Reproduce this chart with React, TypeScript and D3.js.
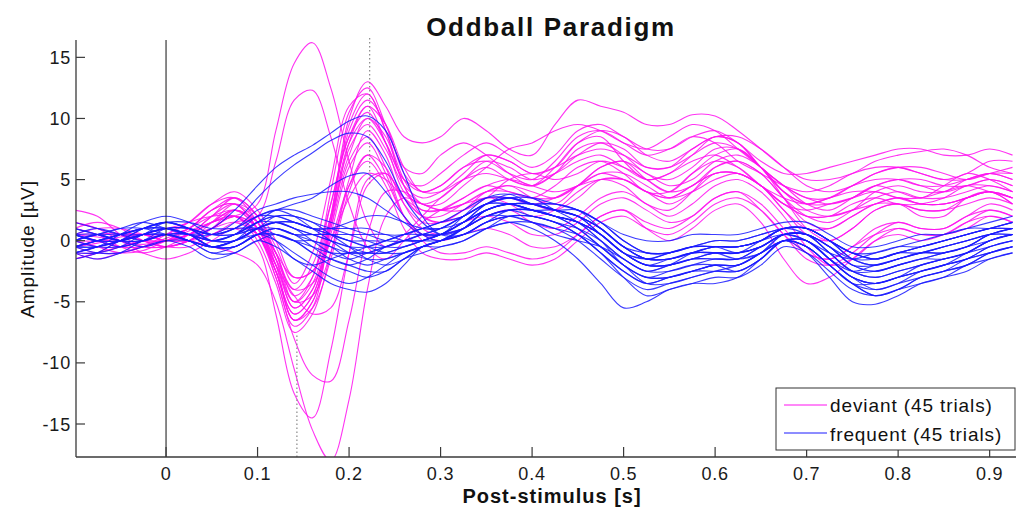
import * as d3 from "d3";

// sample times (s): 25 ms steps, 20 ms steps around the N1/P3 complex
const times = [
  -0.1, -0.075, -0.05, -0.025, 0, 0.025, 0.05, 0.075, 0.1,
  0.12, 0.14, 0.16, 0.18, 0.2, 0.22, 0.24, 0.26, 0.28, 0.3,
  0.325, 0.35, 0.375, 0.4, 0.425, 0.45, 0.475, 0.5, 0.525, 0.55, 0.575, 0.6,
  0.625, 0.65, 0.675, 0.7, 0.725, 0.75, 0.775, 0.8, 0.825, 0.85, 0.875, 0.9, 0.925,
];

// deviant trials, amplitude in µV at each sample time
const deviantTrials = [
  [0.5, 0.3, 0.0, -0.3, 0.2, 1.0, 2.5, 3.0, 1.0, -1.5, -4.0, -2.0, 3.0, 8.5, 11.0, 8.0, 4.0, 3.0, 3.5, 5.0, 6.0, 5.0, 4.5, 6.0, 8.0, 8.5, 6.5, 5.0, 5.5, 7.0, 8.5, 8.0, 6.0, 4.5, 3.0, 2.5, 3.5, 4.5, 4.0, 3.5, 4.5, 5.5, 5.0, 4.0],
  [-0.5, -0.2, 0.3, 0.5, 0.0, 0.5, 1.5, 2.0, 0.5, -2.5, -6.0, -4.5, 2.0, 10.0, 13.0, 11.0, 8.5, 8.0, 8.5, 10.0, 9.0, 7.5, 7.0, 9.5, 11.5, 11.0, 10.5, 9.5, 9.5, 10.3, 10.2, 9.0, 7.5, 6.0, 5.0, 5.0, 5.5, 6.5, 7.0, 7.3, 7.5, 7.0, 6.0, 5.5],
  [1.0, 0.5, -0.5, -1.0, -0.5, 0.5, 2.0, 3.5, 2.0, -0.5, -3.5, -1.0, 5.0, 11.0, 12.0, 9.0, 5.0, 3.0, 3.0, 4.5, 6.0, 7.5, 8.0, 9.0, 9.5, 9.0, 8.0, 7.5, 8.5, 9.5, 9.0, 7.5, 6.0, 4.5, 3.5, 3.0, 3.5, 4.5, 5.0, 4.5, 4.0, 4.5, 5.0, 4.5],
  [-1.0, -0.5, 0.0, 0.5, 1.0, 1.5, 3.0, 4.0, 2.5, 0.0, -3.0, -2.5, 2.0, 7.0, 10.0, 8.5, 4.5, 2.0, 1.5, 2.5, 4.0, 4.5, 3.5, 3.0, 4.5, 6.0, 6.5, 5.0, 4.0, 5.5, 7.0, 7.5, 6.0, 3.5, 1.0, 0.0, 1.0, 2.5, 3.0, 2.0, 2.0, 3.5, 4.0, 3.0],
  [0.0, -0.5, -1.0, -0.8, 0.0, 0.8, 1.5, 2.0, 0.0, -3.5, -7.5, -6.0, -1.0, 5.0, 9.0, 7.0, 3.0, 1.0, 0.5, 1.0, 2.0, 2.5, 1.5, 1.0, 2.0, 3.5, 4.0, 3.0, 2.0, 3.0, 4.5, 5.0, 4.0, 2.0, -0.5, -2.0, -1.5, 0.0, 1.0, 0.5, 0.5, 1.5, 2.5, 2.0],
  [2.5, 2.0, 0.5, -0.5, -0.5, 0.0, 1.0, 2.5, 1.5, -1.0, -5.0, -3.5, 2.0, 9.0, 11.5, 9.5, 5.5, 4.0, 4.0, 5.0, 5.5, 5.0, 4.5, 5.5, 7.0, 8.0, 7.5, 6.0, 6.0, 7.5, 8.5, 8.5, 7.5, 6.0, 4.5, 4.0, 4.5, 5.5, 6.0, 6.0, 5.5, 5.0, 5.5, 6.0],
  [0.5, 1.0, 1.0, 0.5, 0.0, 0.5, 1.5, 2.0, 3.0, 9.0, 14.5, 16.2, 12.5, 6.5, 1.5, -0.5, 0.5, 2.0, 3.5, 5.0, 6.5, 6.0, 5.0, 5.5, 6.5, 7.0, 6.0, 5.0, 5.5, 6.5, 7.0, 6.0, 4.5, 3.5, 3.0, 3.5, 4.0, 4.0, 3.5, 3.5, 4.0, 4.5, 4.0, 3.5],
  [-1.5, -1.0, -0.5, 0.0, 0.5, 0.0, 0.5, 1.5, 2.0, 6.5, 11.5, 12.3, 8.5, 3.0, -0.5, -1.5, 0.0, 1.5, 2.5, 3.5, 4.5, 5.0, 4.5, 4.0, 4.5, 5.5, 5.5, 4.5, 3.5, 4.0, 5.0, 5.5, 4.5, 3.0, 2.0, 2.0, 3.0, 3.5, 3.0, 3.0, 3.5, 4.5, 4.5, 4.0],
  [0.0, 0.5, 0.5, 0.0, -0.5, -0.5, 0.5, 1.0, -0.5, -6.0, -12.5, -14.5, -9.0, -1.0, 5.0, 5.5, 3.5, 2.0, 1.5, 2.0, 3.0, 3.5, 3.0, 2.5, 3.5, 5.0, 5.0, 4.0, 3.0, 4.0, 5.5, 5.5, 4.5, 2.5, 0.5, 0.0, 1.0, 2.5, 3.0, 2.5, 2.5, 3.0, 3.5, 3.0],
  [-1.0, -1.5, -1.0, -0.5, 0.0, 0.0, -0.5, -1.0, -2.0, -5.0, -10.5, -15.5, -18.0, -13.0, -4.0, 2.0, 3.5, 3.0, 2.5, 3.0, 4.0, 4.5, 4.0, 3.5, 4.5, 6.0, 6.5, 5.5, 4.5, 5.0, 6.5, 7.0, 6.0, 4.0, 2.5, 2.0, 2.5, 3.5, 4.0, 3.5, 3.5, 4.0, 4.5, 4.0],
  [1.5, 1.0, 0.0, -1.0, -1.5, -1.0, 0.0, 1.0, 0.5, -3.0, -8.0, -11.0, -11.5, -6.5, 0.5, 4.0, 4.0, 3.0, 2.5, 2.5, 3.5, 5.0, 5.5, 5.0, 5.5, 6.5, 6.0, 5.0, 4.0, 4.5, 6.0, 6.5, 5.5, 3.5, 2.0, 1.5, 2.5, 4.0, 4.5, 4.0, 4.0, 5.0, 5.5, 5.0],
  [-0.5, 0.0, 0.5, 0.5, 0.5, 1.0, 2.5, 3.5, 2.0, -1.5, -5.5, -4.0, 1.0, 6.5, 8.5, 6.0, 2.0, 0.0, -1.0, -1.0, -0.5, -1.0, -1.5, -1.0, 0.5, 2.0, 2.5, 1.0, 0.0, 1.0, 2.5, 3.0, 1.5, -1.5, -3.5, -3.0, -1.5, 0.0, 0.5, 0.0, 0.5, 1.5, 2.0, 1.5],
  [0.0, -0.5, -0.5, 0.0, 0.5, 1.5, 3.0, 3.5, 1.5, -2.0, -6.5, -5.5, -1.5, 4.0, 7.0, 6.0, 3.0, 1.5, 1.5, 2.5, 3.5, 3.0, 2.0, 2.5, 4.0, 5.0, 4.5, 3.0, 2.5, 4.0, 6.0, 6.5, 5.5, 3.5, 1.5, 1.0, 2.0, 3.0, 3.0, 2.5, 2.5, 3.5, 4.0, 3.0],
  [1.5, 1.0, 0.5, 0.0, 0.0, 0.5, 1.5, 2.5, 1.0, -1.0, -4.5, -3.0, 3.0, 8.5, 10.5, 8.0, 5.0, 4.5, 5.5, 7.0, 8.0, 7.0, 6.0, 7.0, 9.0, 9.5, 8.5, 7.5, 7.5, 8.5, 9.0, 8.0, 6.5, 5.5, 5.5, 6.0, 6.5, 7.0, 7.5, 7.5, 7.0, 7.0, 7.5, 7.0],
  [0.0, 0.5, 0.5, 0.0, -0.5, 0.0, 1.0, 2.0, 1.0, -2.0, -5.0, -3.0, 4.0, 10.5, 12.5, 9.5, 6.0, 5.5, 7.0, 8.0, 7.0, 5.5, 4.5, 5.5, 7.5, 8.0, 7.0, 5.5, 5.0, 6.0, 7.5, 7.5, 6.0, 4.0, 3.0, 3.0, 3.5, 4.5, 5.0, 5.0, 4.5, 4.5, 5.0, 4.5],
  [-1.0, -1.0, -0.5, 0.0, 0.0, 0.5, 1.5, 2.5, 1.0, -2.5, -6.0, -4.5, 0.5, 6.0, 8.0, 5.5, 2.0, 0.5, 0.5, 1.5, 2.0, 1.5, 0.5, 0.5, 1.5, 3.0, 3.5, 2.5, 1.5, 2.0, 3.5, 4.0, 2.5, 0.5, -1.0, -1.5, -0.5, 1.0, 1.5, 1.0, 1.0, 2.0, 3.0, 2.5],
  [0.5, 0.0, -0.5, -0.5, 0.0, 1.0, 2.0, 2.5, 1.5, -1.0, -3.0, -2.5, 0.0, 3.5, 5.5, 5.0, 3.5, 2.5, 2.5, 3.0, 3.5, 3.5, 3.0, 3.5, 4.5, 5.0, 5.0, 4.0, 3.5, 4.5, 5.5, 5.5, 4.5, 3.0, 2.0, 2.0, 2.5, 3.0, 3.5, 3.0, 3.0, 3.5, 4.0, 3.5],
  [-0.5, -1.0, -1.0, -0.5, 0.5, 1.5, 2.0, 2.0, 0.5, -2.5, -6.5, -5.0, 1.0, 8.0, 11.0, 9.5, 6.0, 4.0, 4.5, 6.0, 6.5, 5.5, 5.0, 6.5, 8.5, 9.0, 8.0, 7.0, 7.5, 8.5, 8.0, 6.5, 5.5, 4.5, 4.0, 4.5, 5.5, 6.0, 6.0, 5.5, 5.0, 5.5, 6.5, 6.5],
  [0.5, 0.5, 0.0, -0.5, -0.5, 0.0, 1.5, 3.0, 2.0, -1.0, -4.0, -3.5, 0.0, 4.5, 6.5, 4.5, 1.0, -1.0, -1.5, -1.5, -1.0, -1.5, -2.0, -1.5, 0.0, 1.5, 2.0, 1.0, 0.5, 1.5, 3.0, 3.5, 2.5, 0.5, -1.5, -2.0, -1.0, 0.5, 1.5, 1.0, 1.0, 2.0, 2.5, 2.0],
  [-0.5, 0.0, 0.0, 0.5, 0.5, 1.0, 2.5, 3.0, 1.0, -2.0, -5.5, -4.0, 1.5, 7.5, 9.5, 7.5, 4.5, 3.5, 4.0, 5.5, 7.0, 6.5, 5.5, 6.0, 8.0, 9.0, 8.5, 7.0, 6.5, 7.5, 8.5, 8.0, 6.0, 4.0, 3.0, 3.5, 4.5, 5.0, 5.0, 4.5, 4.5, 5.0, 5.5, 5.0],
  [1.0, 1.5, 1.0, 0.0, -0.5, 0.0, 1.0, 2.0, 0.5, -3.0, -7.0, -5.5, 1.5, 9.5, 12.0, 9.0, 4.5, 2.5, 2.5, 3.5, 4.5, 4.0, 3.5, 4.5, 6.0, 6.5, 5.5, 4.0, 4.0, 5.5, 6.5, 6.0, 4.5, 3.0, 2.5, 3.0, 3.5, 4.0, 3.5, 3.0, 3.0, 3.5, 4.0, 3.5],
  [-1.5, -1.0, 0.0, 0.5, 0.0, 0.5, 2.0, 3.0, 1.5, -1.5, -5.0, -4.5, -1.0, 4.5, 7.0, 5.0, 2.0, 0.5, 0.0, 0.5, 1.0, 0.5, -0.5, -0.5, 0.5, 2.0, 2.5, 1.5, 1.0, 2.0, 3.5, 4.0, 3.0, 1.0, -1.0, -1.5, -0.5, 0.5, 1.0, 0.5, 0.5, 1.0, 2.0, 1.5],
  [0.0, 0.0, 0.5, 0.5, 0.0, 0.0, 1.0, 2.0, 1.0, -2.5, -6.5, -5.0, 1.5, 8.0, 10.0, 8.0, 5.0, 4.0, 4.5, 6.0, 7.0, 6.5, 5.5, 6.0, 7.0, 7.5, 7.0, 6.0, 6.0, 7.0, 8.0, 7.5, 6.0, 4.5, 3.5, 3.5, 4.5, 5.5, 6.0, 5.5, 5.0, 5.0, 5.5, 5.5],
  [0.5, 0.0, -0.5, -0.5, 0.0, 0.5, 1.0, 1.5, 0.5, -2.0, -4.5, -6.0, -5.5, -1.0, 4.5, 5.5, 3.5, 2.0, 2.0, 3.0, 4.0, 4.0, 3.5, 3.5, 4.5, 5.5, 5.0, 4.0, 3.5, 4.5, 5.5, 5.5, 4.5, 2.5, 1.0, 1.0, 2.0, 3.0, 3.5, 3.0, 3.0, 3.5, 4.0, 3.5],
];

// frequent trials, amplitude in µV at each sample time
const frequentTrials = [
  [0.0, 0.5, 1.0, 1.5, 1.0, 0.5, 1.0, 2.5, 4.5, 6.0, 7.0, 7.8, 8.8, 9.8, 10.2, 9.0, 5.5, 2.0, 0.5, 0.5, 1.5, 2.0, 1.5, 0.5, 0.0, -0.5, -1.5, -2.5, -2.0, -1.0, -0.5, -0.5, 0.0, 0.5, 0.0, -1.0, -1.5, -1.0, -0.5, -0.5, 0.0, 0.5, 1.0, 1.5],
  [-0.5, 0.0, 0.5, 1.0, 1.0, 0.5, 0.5, 1.5, 3.5, 5.0, 6.2, 7.2, 8.2, 8.8, 8.5, 6.5, 3.5, 1.5, 0.5, 1.0, 2.5, 3.0, 2.5, 2.0, 1.5, 0.5, -1.0, -2.0, -2.0, -1.5, -1.0, -1.0, -0.5, 0.5, 0.5, -0.5, -1.5, -1.5, -1.0, -1.0, -0.5, 0.0, 0.5, 0.5],
  [0.5, 0.0, 0.0, 0.5, 1.5, 1.0, 0.0, 0.5, 2.0, 2.5, 3.0, 3.5, 4.5, 5.3, 5.5, 4.0, 2.0, 0.5, 0.0, 1.0, 2.5, 3.0, 3.0, 2.5, 2.0, 1.0, -0.5, -1.5, -1.5, -1.0, -1.0, -1.5, -1.0, 0.5, 0.5, -0.5, -2.0, -2.5, -2.0, -1.5, -1.5, -1.0, 0.0, 0.5],
  [-1.0, -0.5, 0.0, 1.0, 1.5, 1.0, 0.5, 1.0, 2.5, 3.0, 3.5, 3.8, 4.0, 4.0, 3.5, 2.5, 1.5, 0.5, 0.5, 2.0, 3.5, 3.8, 3.0, 2.5, 2.5, 1.5, 0.0, -1.0, -1.0, -0.5, 0.0, 0.0, 0.5, 1.0, 1.0, 0.0, -1.0, -1.0, -0.5, 0.0, 0.5, 1.0, 1.0, 1.0],
  [0.5, 0.0, -0.5, 0.0, 0.5, 0.0, -1.0, -1.0, 0.0, -0.5, -1.5, -2.5, -3.5, -4.0, -4.2, -3.5, -2.0, -0.5, 0.0, 1.0, 2.0, 2.5, 2.0, 1.5, 0.5, -1.0, -3.0, -4.5, -4.0, -3.5, -3.0, -3.0, -2.0, -0.5, -1.0, -2.5, -4.0, -4.5, -4.0, -3.5, -3.0, -2.0, -1.5, -1.0],
  [-1.0, -1.5, -1.0, 0.0, 0.5, 0.5, -0.5, -0.5, 0.5, 0.0, -1.0, -2.0, -3.0, -3.5, -3.0, -2.0, -1.0, -0.5, 0.0, 0.5, 1.0, 1.5, 1.0, 0.0, -1.5, -3.5, -5.5, -5.0, -4.0, -3.5, -3.5, -3.0, -1.5, 0.0, -1.0, -3.0, -5.0, -5.2, -4.5, -3.5, -3.0, -2.5, -1.5, -1.0],
  [0.0, 0.5, 0.5, 1.0, 1.5, 1.0, 0.0, 0.5, 1.5, 1.5, 1.0, 0.5, 0.0, -0.5, -0.5, 0.0, 0.5, 0.5, 0.5, 1.5, 3.0, 3.5, 3.0, 2.5, 2.0, 0.5, -1.0, -2.0, -1.5, -1.0, -1.0, -1.0, 0.0, 1.0, 0.5, -1.0, -2.5, -2.5, -2.0, -1.5, -1.0, -0.5, 0.0, 0.5],
  [-1.0, -0.5, 0.5, 1.5, 2.0, 1.5, 0.5, 0.5, 1.0, 0.5, 0.0, -0.5, -1.0, -1.0, -0.5, 0.0, 0.5, 1.0, 1.5, 2.0, 3.0, 3.0, 2.5, 2.5, 2.0, 1.0, -0.5, -1.5, -1.0, -0.5, -0.5, -1.0, -0.5, 0.5, 0.0, -1.5, -2.5, -2.0, -1.5, -1.0, -1.0, -0.5, 0.5, 1.0],
  [0.5, 1.0, 0.5, 0.0, 0.5, 0.0, -1.0, -0.5, 0.5, 1.0, 0.5, -0.5, -1.5, -2.0, -1.5, -0.5, 0.0, 0.0, 0.0, 0.5, 1.5, 2.0, 2.0, 1.5, 1.0, 0.0, -1.5, -2.5, -2.5, -2.0, -1.5, -1.5, -1.0, 0.0, -0.5, -2.0, -3.5, -3.5, -3.0, -2.5, -2.0, -1.5, -1.0, -0.5],
  [-1.5, -1.0, 0.0, 0.5, 0.5, 0.0, -0.5, 0.0, 1.0, 1.5, 1.5, 1.0, 0.5, 0.0, -0.5, -1.0, -1.0, -0.5, 0.0, 1.0, 2.5, 3.0, 3.0, 3.0, 2.5, 1.0, -0.5, -1.5, -1.5, -1.0, -0.5, -0.5, 0.0, 1.0, 1.0, 0.0, -1.0, -1.5, -1.0, -0.5, 0.0, 0.5, 1.0, 1.5],
  [1.0, 0.5, 0.0, 0.5, 1.0, 0.5, -0.5, 0.0, 1.5, 2.0, 2.0, 1.5, 1.0, 0.5, 0.0, -0.5, -0.5, 0.0, 0.5, 1.5, 3.0, 3.8, 3.5, 2.5, 1.5, 0.0, -2.0, -3.0, -3.0, -2.5, -2.0, -2.0, -1.0, 0.5, 0.0, -1.5, -3.0, -3.5, -3.0, -2.0, -1.5, -1.0, 0.0, 0.5],
  [0.0, -0.5, -0.5, 0.0, 1.0, 1.0, 0.5, 1.0, 2.0, 2.5, 2.0, 1.0, 0.0, -1.0, -1.5, -1.5, -1.0, -0.5, 0.0, 0.5, 1.5, 2.5, 2.5, 2.0, 1.0, -0.5, -2.0, -3.0, -2.5, -2.0, -2.0, -2.5, -1.5, 0.0, -0.5, -2.0, -3.5, -4.0, -3.5, -2.5, -2.0, -1.5, -0.5, 0.0],
  [1.5, 1.0, 0.5, 0.5, 0.5, 0.0, -0.5, -0.5, 0.5, 1.0, 0.5, 0.5, 0.5, 0.5, 0.5, 0.5, 0.0, 0.0, 0.5, 1.5, 2.5, 3.0, 2.5, 2.0, 1.5, 0.5, -1.0, -1.5, -1.0, -0.5, -0.5, -0.5, 0.0, 1.0, 1.0, 0.0, -1.5, -2.0, -1.5, -1.0, -0.5, 0.0, 0.5, 0.5],
  [-0.5, 0.0, 0.5, 1.0, 1.5, 1.5, 1.0, 1.0, 1.0, 0.0, -1.5, -2.0, -1.5, -1.0, -1.0, -1.0, -0.5, 0.0, 0.5, 1.5, 2.5, 3.0, 3.0, 2.5, 2.0, 0.5, -1.0, -2.0, -2.0, -1.5, -1.5, -1.5, -0.5, 0.5, 0.5, -1.0, -2.5, -3.0, -2.5, -2.0, -1.5, -1.0, -0.5, 0.0],
  [0.0, 0.5, 1.0, 1.0, 0.5, 0.0, -0.5, 0.0, 1.0, 1.5, 1.5, 1.0, 1.0, 1.0, 1.0, 0.5, 0.5, 1.0, 1.5, 2.5, 3.5, 3.5, 3.0, 3.0, 2.5, 1.5, 0.5, 0.0, 0.0, 0.5, 0.5, 0.5, 1.0, 1.5, 1.5, 0.5, -0.5, -0.5, 0.0, 0.5, 0.5, 1.0, 1.5, 2.0],
  [-0.5, -1.0, -1.0, -0.5, 0.0, -0.5, -1.5, -1.0, 0.0, 0.5, 0.0, -1.0, -1.5, -2.0, -2.5, -2.5, -1.5, -1.0, -0.5, 0.0, 1.0, 1.5, 1.5, 1.0, 0.0, -1.5, -3.0, -4.0, -3.5, -3.0, -2.5, -2.5, -1.5, 0.0, -0.5, -2.0, -3.5, -4.5, -4.0, -3.0, -2.5, -2.0, -1.0, -0.5],
  [0.5, 0.0, 0.0, 0.5, 1.0, 0.5, 0.0, 0.5, 1.5, 2.5, 2.5, 2.0, 1.5, 1.0, 0.5, 0.0, 0.0, 0.5, 1.0, 2.0, 3.0, 3.0, 2.5, 2.0, 1.5, 0.5, -1.0, -1.5, -1.5, -1.0, -1.0, -1.0, -0.5, 0.5, 0.5, -0.5, -2.0, -2.0, -1.5, -1.0, -1.0, -0.5, 0.5, 1.0],
  [-1.0, -0.5, 0.0, 0.5, 1.0, 0.5, -0.5, -0.5, 0.5, 0.5, 0.0, 0.0, -0.5, -1.5, -2.0, -1.5, -1.0, -0.5, -0.5, 0.0, 1.0, 2.0, 2.0, 1.5, 0.5, -1.0, -2.5, -3.5, -3.0, -2.5, -2.5, -2.5, -1.5, 0.0, 0.0, -1.5, -3.0, -3.5, -3.0, -2.5, -2.0, -1.5, -0.5, 0.0],
  [0.5, 0.0, 0.5, 1.0, 1.0, 0.5, -0.5, -0.5, 0.5, 1.0, 0.5, 0.0, -0.5, -1.0, -1.0, -0.5, 0.0, 0.5, 0.5, 1.0, 2.0, 2.5, 2.5, 2.0, 1.5, 0.0, -1.5, -2.5, -2.0, -1.5, -1.5, -1.5, -0.5, 0.5, 0.5, -1.0, -2.5, -3.0, -2.5, -2.0, -1.5, -1.0, 0.0, 0.5],
  [-0.5, -0.5, 0.0, 0.5, 1.0, 1.0, 0.0, 0.0, 1.0, 1.5, 1.0, 0.0, -1.0, -1.5, -1.0, -0.5, 0.0, 0.0, 0.5, 1.5, 2.5, 3.0, 2.5, 2.0, 1.5, 0.5, -1.0, -2.0, -2.0, -1.5, -1.0, -1.0, -0.5, 0.5, 0.5, -0.5, -2.0, -2.5, -2.0, -1.5, -1.0, -0.5, 0.5, 1.0],
  [1.0, 0.5, 0.0, 0.0, 0.5, 0.0, -0.5, 0.0, 1.0, 1.5, 1.0, 0.5, 0.0, -0.5, -1.0, -1.0, -0.5, 0.0, 0.5, 1.0, 2.0, 2.0, 1.5, 1.0, 0.5, -0.5, -2.0, -3.5, -3.5, -3.0, -2.5, -2.0, -1.0, 0.0, 0.0, -1.5, -3.0, -4.0, -3.5, -3.0, -2.5, -2.0, -1.0, -0.5],
  [-1.0, -1.0, -0.5, 0.5, 1.0, 1.0, 0.5, 0.5, 1.0, 1.0, 0.5, 0.5, 0.5, 0.0, -0.5, -0.5, 0.0, 0.5, 1.0, 2.0, 3.0, 3.5, 3.5, 3.0, 2.5, 1.5, 0.0, -1.0, -1.0, -0.5, -0.5, -0.5, 0.0, 1.0, 1.0, 0.0, -1.0, -1.5, -1.0, -0.5, 0.0, 0.5, 1.0, 1.0],
  [0.0, 0.5, 0.0, 0.0, 0.5, 0.5, 0.0, 0.0, 1.0, 2.0, 2.0, 1.5, 0.5, -0.5, -1.5, -2.0, -1.5, -0.5, 0.0, 0.5, 1.5, 2.0, 2.0, 1.5, 0.5, -1.0, -2.5, -3.5, -3.0, -2.5, -2.0, -2.0, -1.0, 0.0, -0.5, -2.0, -3.5, -4.5, -4.0, -3.0, -2.5, -1.5, -1.0, -0.5],
  [-0.5, 0.0, 0.5, 1.0, 1.0, 0.5, 0.0, 0.5, 1.5, 2.0, 1.5, 1.0, 1.0, 1.5, 2.0, 2.0, 1.5, 1.0, 1.0, 2.0, 3.0, 3.5, 3.0, 2.5, 2.0, 1.0, -0.5, -1.5, -1.5, -1.0, -0.5, -0.5, 0.0, 1.0, 1.0, 0.0, -1.5, -2.0, -1.5, -1.0, -0.5, 0.0, 0.5, 1.0],
  [0.5, 0.5, 0.0, -0.5, 0.0, 0.0, -0.5, 0.0, 0.5, 0.5, 0.0, -1.0, -2.0, -2.5, -3.0, -2.5, -1.5, -0.5, 0.0, 1.0, 2.0, 2.5, 2.5, 2.0, 1.0, -0.5, -2.0, -3.0, -3.0, -2.5, -2.0, -2.0, -1.0, 0.0, 0.0, -1.5, -3.0, -3.5, -3.0, -2.5, -2.0, -1.0, 0.0, 0.5],
  [-0.5, -0.5, 0.0, 1.0, 1.5, 1.0, 0.5, 1.0, 2.0, 2.0, 1.5, 1.0, 0.5, 0.0, 0.0, 0.0, 0.5, 1.0, 1.0, 1.5, 2.5, 3.0, 3.0, 2.5, 2.0, 1.0, -0.5, -1.0, -1.0, -0.5, 0.0, 0.0, 0.5, 1.0, 1.0, 0.0, -1.0, -1.5, -1.0, -0.5, 0.0, 0.5, 1.0, 1.5],
];

const xTicks = [0, 0.1, 0.2, 0.3, 0.4, 0.5, 0.6, 0.7, 0.8, 0.9];
const yTicks = [-15, -10, -5, 0, 5, 10, 15];
// dotted latency markers: time, amplitude where the marker stops, axis edge it starts from
const markerTimes = [0.143, 0.2225];
const markerStops = [-7.7, 4.5];
const markerEdges = ["bottom", "top"];
const legendLabels = ["deviant (45 trials)", "frequent (45 trials)"];
const colors = ["#ff10f0", "#1a1aff"];

const FONT = "'Liberation Sans', Arial, Helvetica, sans-serif";

export default function App() {
  const width = 1016;
  const height = 511;
  const left = 76, right = 1016, top = 40, bottom = 457;

  const x = d3.scaleLinear().domain([-0.0984, 0.9288]).range([left, right]);
  const y = d3.scaleLinear().domain([-17.7, 16.42]).range([bottom, top]);

  const line = d3
    .line<number>()
    .x((_, i) => x(times[i]))
    .y(d => y(d))
    .curve(d3.curveCatmullRom.alpha(0.5));

  const axisColor = "#3a3a3a";

  return (
    <svg
      width={width}
      height={height}
      style={{ position: "absolute", left: 0, top: 0, background: "#fff" }}
    >
      <defs>
        <clipPath id="plot">
          <rect x={left} y={top} width={right - left} height={bottom - top} />
        </clipPath>
      </defs>

      <g clipPath="url(#plot)" fill="none">
        {deviantTrials.map((tr, i) => (
          <path key={"d" + i} d={line(tr) || ""} stroke={colors[0]} strokeWidth={1.1} strokeOpacity={0.85} />
        ))}
        {frequentTrials.map((tr, i) => (
          <path key={"f" + i} d={line(tr) || ""} stroke={colors[1]} strokeWidth={1.1} strokeOpacity={0.85} />
        ))}
      </g>

      {/* stimulus onset */}
      <line x1={x(0)} x2={x(0)} y1={top} y2={bottom} stroke="#111" strokeWidth={1} />

      {/* latency markers */}
      {markerTimes.map((t, i) => (
        <line
          key={"m" + i}
          x1={x(t)}
          x2={x(t)}
          y1={markerEdges[i] === "top" ? top - 2 : bottom}
          y2={y(markerStops[i])}
          stroke="#888"
          strokeWidth={1.2}
          strokeDasharray="1.5,2.5"
        />
      ))}

      {/* axes */}
      <line x1={left} x2={left} y1={top} y2={bottom} stroke={axisColor} strokeWidth={1.3} />
      <line x1={left} x2={right} y1={bottom} y2={bottom} stroke={axisColor} strokeWidth={1.3} />
      {yTicks.map(v => (
        <g key={"y" + v}>
          <line x1={left} x2={left + 9} y1={y(v)} y2={y(v)} stroke={axisColor} strokeWidth={1.2} />
          <text
            x={left - 5}
            y={y(v) + 6.5}
            textAnchor="end"
            fontFamily={FONT}
            fontSize={18}
            letterSpacing={0.8}
            fill="#1a1a1a"
          >
            {v}
          </text>
        </g>
      ))}
      {xTicks.map(v => (
        <g key={"x" + v}>
          <line x1={x(v)} x2={x(v)} y1={bottom} y2={bottom - 10} stroke={axisColor} strokeWidth={1.2} />
          <text
            x={x(v)}
            y={bottom + 23}
            textAnchor="middle"
            fontFamily={FONT}
            fontSize={18}
            letterSpacing={0.8}
            fill="#1a1a1a"
          >
            {v}
          </text>
        </g>
      ))}

      {/* title and axis labels */}
      <text x={551} y={36} textAnchor="middle" fontFamily={FONT} fontSize={26} fontWeight="bold" letterSpacing={1.7} fill="#111">
        Oddball Paradigm
      </text>
      <text x={552} y={503} textAnchor="middle" fontFamily={FONT} fontSize={20} fontWeight="bold" letterSpacing={1} fill="#111">
        Post-stimulus [s]
      </text>
      <text
        transform={`translate(34, 249) rotate(-90)`}
        textAnchor="middle"
        fontFamily={FONT}
        fontSize={19}
        letterSpacing={1}
        fill="#111"
      >
        Amplitude [µV]
      </text>

      {/* legend */}
      <g>
        <rect x={776} y={388} width={239} height={62} fill="#fff" stroke="#333" strokeWidth={1} />
        {legendLabels.map((lab, i) => (
          <g key={lab}>
            <line x1={784} x2={827} y1={405 + i * 28} y2={405 + i * 28} stroke={colors[i]} strokeWidth={1} />
            <text x={830} y={412 + i * 29} fontFamily={FONT} fontSize={19} letterSpacing={0.9} fill="#111">
              {lab}
            </text>
          </g>
        ))}
      </g>
    </svg>
  );
}
